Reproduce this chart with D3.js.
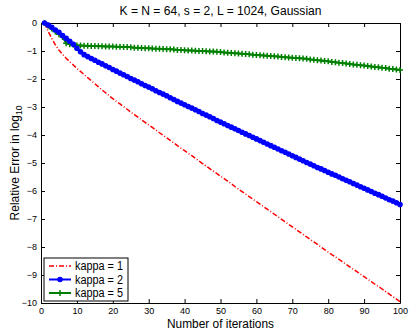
<!DOCTYPE html>
<html>
<head>
<meta charset="utf-8">
<script src="https://cdn.jsdelivr.net/npm/d3@7"></script>
<style>
  body { margin: 0; background: #fff; }
  text { font-family: "Liberation Sans", Arial, sans-serif; fill: #000; }
</style>
</head>
<body>
<div id="viz"></div>
<script>
var iterations = d3.range(1, 101),

    kappa1 = [
        0, -0.30, -0.55, -0.78, -0.97, -1.12, -1.26, -1.38, -1.50, -1.62,
        -1.73, -1.84, -1.95, -2.06, -2.17, -2.28, -2.39, -2.49, -2.60, -2.70,
        -2.80, -2.89, -2.99, -3.08, -3.18, -3.27, -3.36, -3.46, -3.55, -3.64,
        -3.73, -3.82, -3.92, -4.01, -4.10, -4.19, -4.28, -4.38, -4.47, -4.56,
        -4.65, -4.74, -4.83, -4.93, -5.02, -5.11, -5.20, -5.29, -5.38, -5.47,
        -5.56, -5.65, -5.74, -5.84, -5.93, -6.02, -6.11, -6.20, -6.29, -6.38,
        -6.47, -6.56, -6.65, -6.74, -6.83, -6.92, -7.01, -7.10, -7.19, -7.28,
        -7.37, -7.46, -7.55, -7.64, -7.73, -7.82, -7.91, -8.00, -8.09, -8.18,
        -8.27, -8.35, -8.44, -8.53, -8.62, -8.71, -8.80, -8.88, -8.97, -9.06,
        -9.15, -9.24, -9.33, -9.41, -9.50, -9.59, -9.68, -9.77, -9.86, -9.95
    ],

    kappa2 = [
        0, -0.07, -0.15, -0.25, -0.33, -0.45, -0.55, -0.65, -0.76, -0.90,
        -1.03, -1.13, -1.20, -1.27, -1.33, -1.40, -1.46, -1.53, -1.59, -1.66,
        -1.72, -1.79, -1.85, -1.91, -1.98, -2.04, -2.10, -2.17, -2.23, -2.29,
        -2.35, -2.42, -2.48, -2.54, -2.60, -2.67, -2.73, -2.80, -2.86, -2.92,
        -2.98, -3.04, -3.10, -3.16, -3.23, -3.29, -3.35, -3.41, -3.48, -3.54,
        -3.60, -3.66, -3.72, -3.78, -3.84, -3.90, -3.96, -4.02, -4.08, -4.14,
        -4.20, -4.26, -4.32, -4.38, -4.44, -4.50, -4.56, -4.62, -4.68, -4.74,
        -4.80, -4.86, -4.92, -4.98, -5.04, -5.10, -5.16, -5.21, -5.27, -5.33,
        -5.39, -5.44, -5.50, -5.56, -5.62, -5.67, -5.73, -5.79, -5.85, -5.90,
        -5.96, -6.02, -6.08, -6.13, -6.19, -6.25, -6.31, -6.36, -6.42, -6.48
    ],

    kappa5 = [
        0, -0.10, -0.20, -0.30, -0.40, -0.50, -0.72, -0.76, -0.78, -0.80,
        -0.80, -0.81, -0.81, -0.82, -0.82, -0.83, -0.83, -0.84, -0.84, -0.84,
        -0.85, -0.85, -0.86, -0.86, -0.87, -0.88, -0.88, -0.89, -0.90, -0.90,
        -0.91, -0.92, -0.92, -0.93, -0.94, -0.94, -0.95, -0.96, -0.96, -0.97,
        -0.98, -0.98, -0.99, -1.00, -1.00, -1.01, -1.02, -1.02, -1.03, -1.04,
        -1.05, -1.06, -1.07, -1.08, -1.09, -1.10, -1.11, -1.12, -1.13, -1.14,
        -1.15, -1.16, -1.17, -1.18, -1.19, -1.20, -1.21, -1.22, -1.23, -1.24,
        -1.25, -1.26, -1.27, -1.28, -1.30, -1.31, -1.33, -1.34, -1.36, -1.37,
        -1.39, -1.40, -1.42, -1.43, -1.45, -1.46, -1.48, -1.49, -1.51, -1.52,
        -1.54, -1.55, -1.57, -1.58, -1.60, -1.61, -1.63, -1.64, -1.66, -1.68
    ],

    seriesNames = ['kappa = 1', 'kappa = 2', 'kappa = 5'],
    xTicks = d3.range(0, 101, 10),
    yTicks = d3.range(-10, 1, 1),

    width = 409,
    height = 332,
    margin = {top: 23, right: 9, bottom: 29, left: 41},

    svg = d3.select('#viz')
        .append('svg')
            .attr('width', width)
            .attr('height', height),

    x = d3.scaleLinear()
        .domain([0, 100])
        .range([margin.left, width - margin.right]),

    y = d3.scaleLinear()
        .domain([-10, 0])
        .range([height - margin.bottom, margin.top]),

    fmt = function (d) { return d < 0 ? '\u2212' + Math.abs(d) : d; };

// axes (MATLAB style, ticks pointing in, on all four sides)
var axisGroup = svg.append('g').attr('class', 'axes');

axisGroup.append('g')
    .attr('transform', 'translate(0,' + y(-10) + ')')
    .call(d3.axisBottom(x).tickValues(xTicks).tickSizeInner(-4).tickSizeOuter(0).tickPadding(5).tickFormat(fmt));

axisGroup.append('g')
    .attr('transform', 'translate(0,' + y(0) + ')')
    .call(d3.axisTop(x).tickValues(xTicks).tickSizeInner(-4).tickSizeOuter(0).tickFormat(''));

axisGroup.append('g')
    .attr('transform', 'translate(' + x(0) + ',0)')
    .call(d3.axisLeft(y).tickValues(yTicks).tickSizeInner(-4).tickSizeOuter(0).tickPadding(4).tickFormat(fmt));

axisGroup.append('g')
    .attr('transform', 'translate(' + x(100) + ',0)')
    .call(d3.axisRight(y).tickValues(yTicks).tickSizeInner(-4).tickSizeOuter(0).tickFormat(''));

axisGroup.selectAll('.domain').attr('stroke', '#000').attr('stroke-width', 1);
axisGroup.selectAll('.tick line').attr('stroke', '#000');
axisGroup.selectAll('.tick text')
    .style('font-family', '"Liberation Sans", Arial, sans-serif')
    .style('font-size', '9px')
    .attr('fill', '#000');

// curves
var line = d3.line()
    .x(function (d, i) { return x(iterations[i]); })
    .y(function (d) { return y(d); }),

    curvesGroup = svg.append('g').attr('class', 'curves');

curvesGroup.append('path')
    .attr('d', line(kappa1))
    .style('fill', 'none')
    .style('stroke', '#ff0000')
    .style('stroke-width', 1.5)
    .style('stroke-dasharray', '5,2,1,2');

curvesGroup.append('path')
    .attr('d', line(kappa5))
    .style('fill', 'none')
    .style('stroke', '#008000')
    .style('stroke-width', 2);

curvesGroup.append('g')
    .selectAll('path')
    .data(kappa5)
    .enter()
    .append('path')
        .attr('d', function (d, i) {
            var cx = x(iterations[i]), cy = y(d);
            return 'M' + (cx - 3) + ',' + cy + 'H' + (cx + 3) + 'M' + cx + ',' + (cy - 3) + 'V' + (cy + 3);
        })
        .style('stroke', '#008000')
        .style('stroke-width', 1.5);

curvesGroup.append('path')
    .attr('d', line(kappa2))
    .style('fill', 'none')
    .style('stroke', '#0000ff')
    .style('stroke-width', 2);

curvesGroup.append('g')
    .selectAll('circle')
    .data(kappa2)
    .enter()
    .append('circle')
        .attr('cx', function (d, i) { return x(iterations[i]); })
        .attr('cy', function (d) { return y(d); })
        .attr('r', 2.8)
        .style('fill', '#0000ff');

// legend
var legend = svg.append('g').attr('class', 'legend'),
    lx = 44, ly = 258;

legend.append('rect')
    .attr('x', lx).attr('y', ly)
    .attr('width', 84).attr('height', 43)
    .style('fill', '#fff')
    .style('stroke', '#000')
    .style('stroke-width', 1);

seriesNames.forEach(function (name, i) {
    var yy = ly + 8 + i * 13.5;
    var sample = legend.append('line')
        .attr('x1', lx + 5).attr('x2', lx + 27)
        .attr('y1', yy).attr('y2', yy)
        .style('stroke-width', i === 0 ? 1.5 : 2);
    if (i === 0) {
        sample.style('stroke', '#ff0000').style('stroke-dasharray', '5,2,1,2');
    } else if (i === 1) {
        sample.style('stroke', '#0000ff');
        legend.append('circle').attr('cx', lx + 16).attr('cy', yy).attr('r', 2.8).style('fill', '#0000ff');
    } else {
        sample.style('stroke', '#008000');
        legend.append('path')
            .attr('d', 'M' + (lx + 13) + ',' + yy + 'H' + (lx + 19) + 'M' + (lx + 16) + ',' + (yy - 3) + 'V' + (yy + 3))
            .style('stroke', '#008000').style('stroke-width', 1.5);
    }
    legend.append('text')
        .attr('x', lx + 31).attr('y', yy + 4)
        .style('font-size', '12px')
        .attr('textLength', 48)
        .attr('lengthAdjust', 'spacingAndGlyphs')
        .text(name);
});

// title and labels
svg.append('text')
    .attr('x', (x(0) + x(100)) / 2)
    .attr('y', 15)
    .attr('text-anchor', 'middle')
    .style('font-size', '12.5px')
    .attr('textLength', 202)
    .attr('lengthAdjust', 'spacingAndGlyphs')
    .text('K = N = 64, s = 2, L = 1024, Gaussian');

svg.append('text')
    .attr('x', (x(0) + x(100)) / 2)
    .attr('y', 328)
    .attr('text-anchor', 'middle')
    .style('font-size', '12.5px')
    .attr('textLength', 107)
    .attr('lengthAdjust', 'spacingAndGlyphs')
    .text('Number of iterations');

var ylab = svg.append('text')
    .attr('transform', 'translate(19,' + ((y(0) + y(-10)) / 2) + ') rotate(-90)')
    .attr('text-anchor', 'middle')
    .style('font-size', '12px');
ylab.append('tspan').text('Relative Error in log');
ylab.append('tspan').attr('dy', 3).style('font-size', '8.5px').text('10');
</script>
</body>
</html>
